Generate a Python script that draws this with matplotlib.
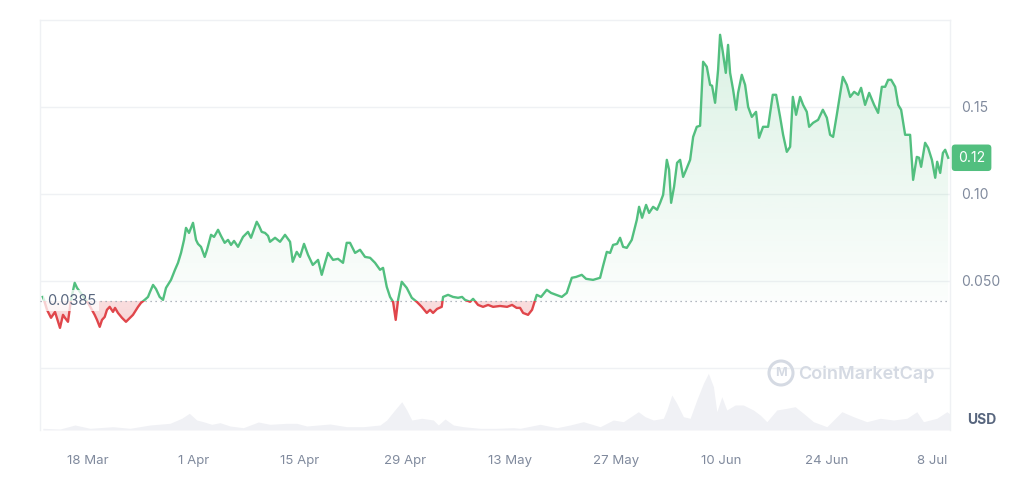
import numpy as np
import pandas as pd
import matplotlib
matplotlib.use("Agg")
import matplotlib.pyplot as plt
import matplotlib.dates as mdates
from matplotlib.path import Path
from matplotlib.patches import Ellipse

plt.rcParams['font.family'] = ['Inter', 'DejaVu Sans']

# Price, sampled irregularly (days after 12 Mar 2024)
price_days = [0.0, 0.16, 0.56, 1.09, 1.62, 2.28, 2.68, 2.94, 3.34, 3.74, 4.23, 4.54, 4.93, 6.0,
              6.66, 6.88, 7.19, 7.55, 7.85, 8.21, 8.51, 8.87, 9.31, 9.58, 9.97, 10.5, 11.03, 11.56,
              11.96, 12.63, 13.02, 13.51, 13.95, 14.22, 14.62, 15.01, 15.5, 15.94, 16.34, 17.0,
              17.53, 17.93, 18.33, 18.73, 18.99, 19.39, 19.92, 20.32, 20.58, 20.98, 21.47, 21.78,
              22.31, 22.71, 23.24, 23.63, 24.12, 24.56, 24.96, 25.36, 25.89, 26.55, 27.21, 27.61,
              28.37, 28.67, 29.03, 29.47, 29.87, 30.13, 30.8, 31.46, 32.12, 32.79, 33.14, 33.67,
              34.11, 34.64, 35.17, 35.8, 36.1, 36.5, 36.99, 37.43, 37.82, 38.49, 39.15, 39.81,
              40.3, 40.74, 41.41, 42.07, 42.73, 43.4, 44.06, 44.72, 45.12, 45.61, 46.05, 46.45,
              46.8, 47.11, 47.6, 48.26, 48.93, 49.59, 50.25, 50.92, 51.35, 51.75, 52.28, 52.9,
              53.08, 53.74, 54.4, 55.07, 55.6, 55.99, 56.66, 57.06, 57.72, 58.38, 59.05, 59.71,
              60.64, 61.57, 62.23, 62.83, 63.29, 63.69, 64.35, 64.88, 65.5, 66.07, 66.83, 67.4,
              68.06, 68.82, 69.48, 70.15, 70.72, 71.47, 72.04, 72.97, 73.9, 74.3, 74.79, 75.23,
              75.62, 76.15, 76.55, 76.95, 77.44, 78.1, 78.77, 79.07, 79.47, 80.0, 80.4, 80.93,
              81.46, 81.86, 82.26, 82.75, 83.05, 83.32, 83.71, 84.11, 84.51, 84.91, 85.31, 85.84,
              86.24, 86.72, 87.16, 87.56, 88.05, 88.49, 88.75, 89.15, 89.55, 89.81, 90.17, 90.57,
              90.87, 91.14, 91.54, 91.94, 92.2, 92.69, 93.13, 93.53, 94.02, 94.58, 94.98, 95.51,
              96.18, 96.8, 97.24, 97.77, 98.17, 98.66, 99.1, 99.46, 99.89, 100.42, 100.82, 101.31,
              101.62, 102.15, 102.81, 103.44, 103.97, 104.4, 104.8, 105.29, 105.6, 106.09, 106.62,
              107.06, 107.59, 108.12, 108.51, 109.04, 109.58, 110.24, 110.77, 111.26, 111.7,
              112.1, 112.5, 113.03, 113.43, 113.82, 114.35, 115.01, 115.41, 115.9, 116.2, 116.47,
              117.0, 117.4, 117.9, 118.34, 118.6, 119.0, 119.36, 119.66, 120.06]
price_values = [0.0408, 0.0391, 0.0334, 0.0288, 0.0322, 0.0230, 0.0305, 0.0288, 0.0265, 0.0391,
                0.0489, 0.0460, 0.0437, 0.0374, 0.0322, 0.0305, 0.0276, 0.0236, 0.0276, 0.0293,
                0.0334, 0.0351, 0.0322, 0.0345, 0.0316, 0.0288, 0.0265, 0.0288, 0.0305, 0.0351,
                0.0374, 0.0391, 0.0408, 0.0437, 0.0477, 0.0454, 0.0408, 0.0391, 0.0460, 0.0506,
                0.0564, 0.0604, 0.0661, 0.0736, 0.0805, 0.0776, 0.0834, 0.0736, 0.0713, 0.0696,
                0.0638, 0.0679, 0.0765, 0.0753, 0.0794, 0.0759, 0.0719, 0.0736, 0.0707, 0.0730,
                0.0696, 0.0753, 0.0782, 0.0748, 0.0840, 0.0817, 0.0782, 0.0776, 0.0759, 0.0725,
                0.0748, 0.0725, 0.0765, 0.0725, 0.0610, 0.0667, 0.0638, 0.0713, 0.0650, 0.0592,
                0.0604, 0.0621, 0.0535, 0.0604, 0.0661, 0.0621, 0.0627, 0.0604, 0.0719, 0.0719,
                0.0661, 0.0679, 0.0638, 0.0633, 0.0604, 0.0564, 0.0575, 0.0466, 0.0408, 0.0380,
                0.0276, 0.0391, 0.0495, 0.0460, 0.0403, 0.0380, 0.0351, 0.0316, 0.0334, 0.0316,
                0.0339, 0.0351, 0.0408, 0.0420, 0.0408, 0.0403, 0.0408, 0.0391, 0.0380, 0.0397,
                0.0362, 0.0351, 0.0362, 0.0351, 0.0356, 0.0351, 0.0362, 0.0345, 0.0345, 0.0316,
                0.0305, 0.0334, 0.0420, 0.0408, 0.0449, 0.0431, 0.0420, 0.0408, 0.0431, 0.0518,
                0.0523, 0.0535, 0.0512, 0.0506, 0.0518, 0.0587, 0.0667, 0.0661, 0.0707, 0.0713,
                0.0748, 0.0696, 0.0690, 0.0736, 0.0851, 0.0926, 0.0863, 0.0937, 0.0891, 0.0926,
                0.0909, 0.0949, 0.0995, 0.1196, 0.1139, 0.0949, 0.1041, 0.1179, 0.1196, 0.1098,
                0.1139, 0.1196, 0.1328, 0.1386, 0.1392, 0.1760, 0.1731, 0.1627, 0.1622, 0.1524,
                0.1714, 0.1915, 0.1817, 0.1696, 0.1857, 0.1696, 0.1599, 0.1484, 0.1581, 0.1685,
                0.1627, 0.1501, 0.1443, 0.1472, 0.1323, 0.1386, 0.1386, 0.1570, 0.1570, 0.1443,
                0.1340, 0.1242, 0.1271, 0.1558, 0.1455, 0.1558, 0.1512, 0.1472, 0.1386, 0.1409,
                0.1426, 0.1484, 0.1438, 0.1340, 0.1328, 0.1455, 0.1541, 0.1673, 0.1627, 0.1558,
                0.1587, 0.1570, 0.1610, 0.1512, 0.1581, 0.1512, 0.1466, 0.1616, 0.1616, 0.1656,
                0.1656, 0.1616, 0.1512, 0.1484, 0.1340, 0.1340, 0.1081, 0.1213, 0.1208, 0.1156,
                0.1294, 0.1265, 0.1196, 0.1093, 0.1185, 0.1121, 0.1236, 0.1254, 0.1208]

# Volume (millions USD)
vol_days = [0.0, 2.28, 4.27, 6.26, 9.31, 11.56, 14.22, 16.87, 18.42, 19.43, 20.41, 21.29, 22.4,
            23.5, 24.83, 26.59, 28.58, 30.13, 32.35, 33.67, 35.0, 38.09, 40.3, 42.51, 44.72,
            45.61, 46.49, 47.6, 48.26, 48.93, 50.25, 51.79, 52.45, 53.34, 54.44, 55.77, 57.98,
            60.2, 62.4, 63.29, 65.94, 68.16, 69.92, 71.68, 73.9, 75.66, 76.99, 78.97, 79.87,
            80.97, 82.29, 82.75, 83.41, 84.07, 84.95, 85.84, 86.72, 87.6, 88.26, 88.93, 89.38,
            90.04, 90.7, 91.8, 92.9, 94.23, 95.12, 96.01, 97.33, 98.66, 99.76, 100.86, 102.19,
            103.97, 105.96, 107.5, 109.27, 111.04, 112.8, 114.58, 115.9, 116.78, 118.55, 119.88,
            120.3]
vol_values = [0.17, 0.10, 0.50, 0.17, 0.33, 0.17, 0.50, 0.67, 1.17, 1.67, 1.00, 0.83, 0.57,
              0.73, 0.40, 0.23, 0.80, 0.57, 0.67, 0.67, 0.40, 0.60, 0.33, 0.33, 0.50, 1.00,
              1.83, 2.83, 2.00, 1.00, 1.17, 1.00, 0.50, 1.10, 0.50, 0.33, 0.17, 0.17, 0.23,
              0.17, 0.57, 0.23, 0.50, 0.83, 0.33, 1.00, 0.83, 1.83, 1.33, 1.00, 1.17, 2.00,
              3.50, 2.67, 1.33, 1.17, 3.00, 4.67, 5.67, 4.33, 1.83, 3.33, 2.00, 2.50, 2.50,
              2.00, 1.50, 0.83, 2.00, 2.17, 2.33, 1.67, 0.83, 0.33, 1.83, 1.33, 0.83, 1.17,
              1.00, 1.17, 1.83, 0.83, 1.17, 1.83, 1.60]

start = pd.Timestamp("2024-03-12")
baseline = 0.0385
last_label = "0.12"
tick_dates = ["2024-03-18", "2024-04-01", "2024-04-15", "2024-04-29", "2024-05-13",
              "2024-05-27", "2024-06-10", "2024-06-24", "2024-07-08"]
y_ticks = [0.05, 0.10, 0.15]
y_tick_labels = ["0.050", "0.10", "0.15"]

green = "#52bf7f"
red = "#e0464b"
grid_c = "#eff1f4"
text_c = "#808a9d"

t = mdates.date2num(start + pd.to_timedelta(price_days, unit="D"))
p = np.array(price_values)
tv = mdates.date2num(start + pd.to_timedelta(vol_days, unit="D"))
vv = np.array(vol_values)

fig = plt.figure(figsize=(10.24, 4.78), dpi=100)
ax = fig.add_axes([40 / 1024, 48 / 478, 910 / 1024, 410 / 478])
x0 = mdates.date2num(start) - 0.37
x1 = mdates.date2num(start) + 120.3

# volume on a hidden twin axis
ax2 = ax.twinx()
ax2.set_ylim(0, 41)
ax2.fill_between(tv, 0, vv, color="#f0f1f5", lw=0, zorder=1)
ax2.axis("off")
ax.set_zorder(ax2.get_zorder() + 1)
ax.patch.set_visible(False)

# grid
for g in [0.0, 0.05, 0.10, 0.15]:
    ax.axhline(g, color=grid_c, lw=1, zorder=0)

# gradient fills
up = ax.fill_between(t, p, baseline, where=p >= baseline, interpolate=True, color="none", lw=0)
dn = ax.fill_between(t, p, baseline, where=p < baseline, interpolate=True, color="none", lw=0)
rgba = np.zeros((256, 1, 4))
rgba[..., :3] = matplotlib.colors.to_rgb(green)
rgba[..., 3] = np.linspace(0.02, 0.22, 256).reshape(-1, 1)
im = ax.imshow(rgba, extent=[x0, x1, baseline, 0.2], origin="lower", aspect="auto", zorder=2)
im.set_clip_path(Path.make_compound_path(*up.get_paths()), ax.transData)
rgba_r = np.zeros((256, 1, 4))
rgba_r[..., :3] = matplotlib.colors.to_rgb(red)
rgba_r[..., 3] = np.linspace(0.32, 0.18, 256).reshape(-1, 1)
im2 = ax.imshow(rgba_r, extent=[x0, x1, 0.0, baseline], origin="lower", aspect="auto", zorder=2)
im2.set_clip_path(Path.make_compound_path(*dn.get_paths()), ax.transData)
ax.set_xlim(x0, x1)
ax.set_ylim(-0.0357, 0.2)

# price line, green above baseline and red below
lg, = ax.plot(t, p, color=green, lw=1.7, zorder=4, solid_joinstyle="round")
lr, = ax.plot(t, p, color=red, lw=1.7, zorder=4, solid_joinstyle="round")
lg.set_clip_path(plt.Rectangle((x0, baseline), x1 - x0, 1, transform=ax.transData))
lr.set_clip_path(plt.Rectangle((x0, -1), x1 - x0, 1 + baseline, transform=ax.transData))

ax.axhline(baseline, color="#9aa1ad", lw=0.9, ls=(0, (1, 3)), zorder=3)
ax.text(x0 + 0.9, baseline, "0.0385", color="#58667e", fontsize=10.5, va="center", ha="left",
        zorder=6, bbox=dict(facecolor="white", alpha=0.75, edgecolor="none", pad=2.5))

# axes styling
for s in ["left", "right", "top"]:
    ax.spines[s].set_color(grid_c)
    ax.spines[s].set_linewidth(1)
ax.spines["bottom"].set_visible(False)
ax.yaxis.tick_right()
ax.set_yticks(y_ticks)
ax.set_yticklabels(y_tick_labels)
ax.tick_params(axis="y", length=0, pad=8, labelsize=10, labelcolor=text_c)
ax.set_xticks(mdates.date2num(pd.to_datetime(tick_dates)))
ax.xaxis.set_major_formatter(mdates.DateFormatter("%-d %b"))
ax.tick_params(axis="x", length=0, pad=18, labelsize=9.5, labelcolor=text_c)

# last price tag
ax.text(1.0 + 8 / 910, p[-1], last_label, transform=ax.get_yaxis_transform(), color="white",
        fontsize=10, va="center", ha="left", zorder=7,
        bbox=dict(boxstyle="round,pad=0.45,rounding_size=0.25", facecolor=green, edgecolor="none"))

fig.text(967 / 1024, 1 - 420 / 478, "USD", color="#58667e", fontsize=10, fontweight="bold",
         va="center", ha="left")

# watermark
wm = "#d5dae3"
fig.patches.append(Ellipse((781 / 1024, 1 - 373 / 478), 24 / 1024, 24 / 478,
                           transform=fig.transFigure, fill=False, edgecolor=wm, lw=2.2))
fig.text(781 / 1024, 1 - 373.5 / 478, "M", color=wm, fontsize=9, fontweight="bold",
         ha="center", va="center")
fig.text(798 / 1024, 1 - 374 / 478, "CoinMarketCap", color=wm, fontsize=13,
         fontweight="semibold", ha="left", va="center")

fig.savefig("out.png", dpi=100)
